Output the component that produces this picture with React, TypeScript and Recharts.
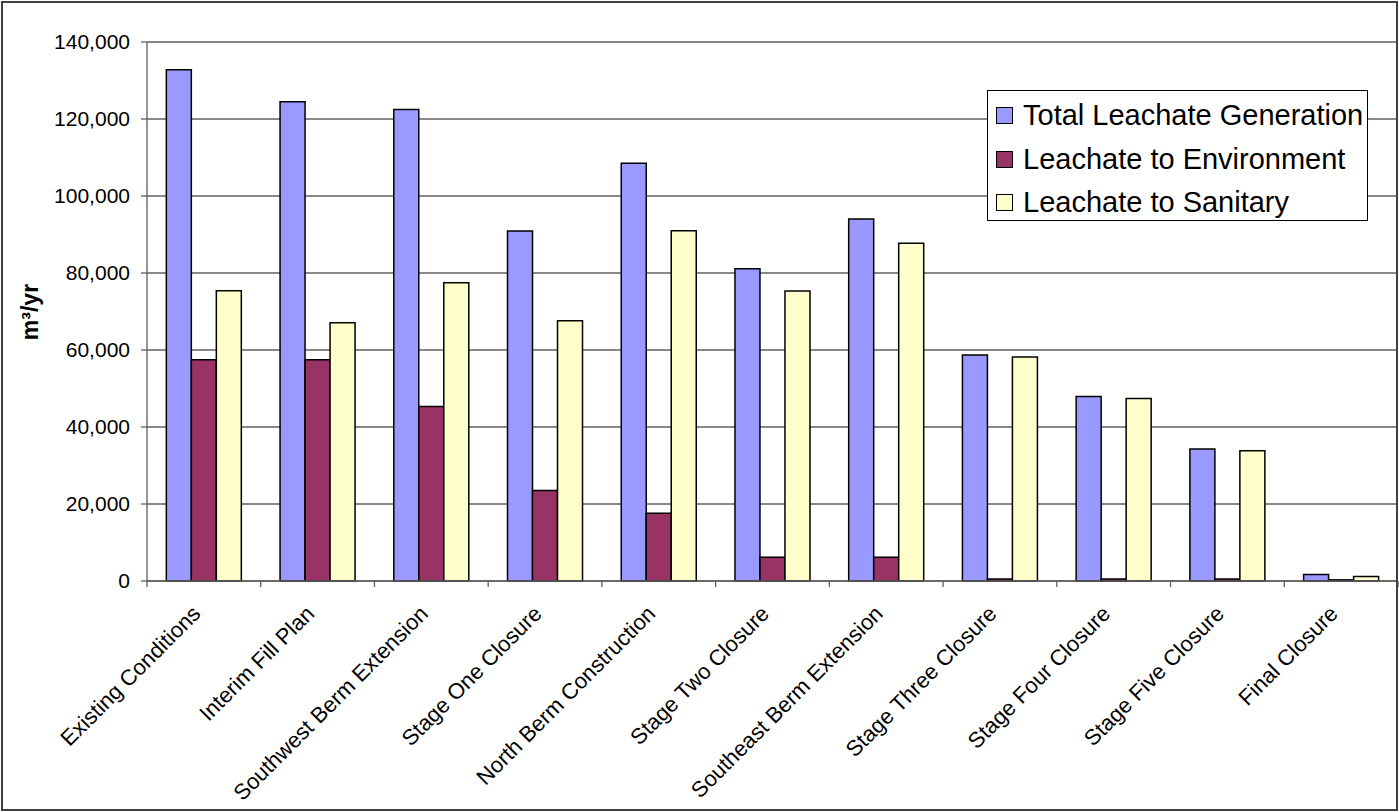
import React from "react";
import { BarChart, Bar, XAxis, YAxis, CartesianGrid } from "recharts";

const CATEGORIES = [
  "Existing Conditions",
  "Interim Fill Plan",
  "Southwest Berm Extension",
  "Stage One Closure",
  "North Berm Construction",
  "Stage Two Closure",
  "Southeast Berm Extension",
  "Stage Three Closure",
  "Stage Four Closure",
  "Stage Five Closure",
  "Final Closure",
];
const TOTAL_GENERATION = [132800, 124500, 122500, 90900, 108500, 81100, 94000, 58700, 47900, 34300, 1700];
const TO_ENVIRONMENT = [57500, 57500, 45300, 23500, 17600, 6200, 6200, 500, 500, 500, 300];
const TO_SANITARY = [75400, 67100, 77500, 67600, 91000, 75300, 87700, 58200, 47400, 33800, 1200];
const Y_TICKS = [0, 20000, 40000, 60000, 80000, 100000, 120000, 140000];

const SERIES = [
  { key: "total", name: "Total Leachate Generation", color: "#9999ff" },
  { key: "env", name: "Leachate to Environment", color: "#993366" },
  { key: "san", name: "Leachate to Sanitary", color: "#ffffcc" },
];

const data = CATEGORIES.map((c, i) => ({
  name: c,
  total: TOTAL_GENERATION[i],
  env: TO_ENVIRONMENT[i],
  san: TO_SANITARY[i],
}));

const W = 1399;
const H = 812;
const FONT = "'Liberation Sans', Arial, sans-serif";
const Y_AXIS_W = 147;
const RIGHT = 1;
const BAND = (W - Y_AXIS_W - RIGHT) / CATEGORIES.length;
const LINE = "#606060";

const CategoryTick = (props: any) => {
  const { x, y, payload, index } = props;
  const axisY = y - 8;
  const left = x - BAND / 2;
  const right = x + BAND / 2;
  return (
    <g>
      <line x1={left} x2={left} y1={axisY} y2={axisY + 6} stroke={LINE} strokeWidth={1.3} />
      {index === CATEGORIES.length - 1 && (
        <line x1={right} x2={right} y1={axisY} y2={axisY + 6} stroke={LINE} strokeWidth={1.3} />
      )}
      <text
        x={x - 2}
        y={y + 26}
        textAnchor="end"
        transform={`rotate(-45, ${x - 2}, ${y + 26})`}
        fontSize={22}
        fontFamily={FONT}
        fill="#000"
      >
        {payload.value}
      </text>
    </g>
  );
};

const App = () => {
  return (
    <div style={{ position: "absolute", left: 0, top: 0, width: W, height: H, background: "#fff" }}>
      <BarChart
        width={W}
        height={H}
        data={data}
        margin={{ top: 42, right: RIGHT, bottom: 0, left: 0 }}
        barCategoryGap="17%"
        barGap={0}
      >
        <CartesianGrid vertical={false} stroke={LINE} strokeWidth={1.3} />
        <XAxis
          dataKey="name"
          interval={0}
          height={231}
          tickLine={false}
          axisLine={{ stroke: LINE, strokeWidth: 1.3 }}
          tick={<CategoryTick />}
        />
        <YAxis
          width={Y_AXIS_W}
          domain={[0, 140000]}
          ticks={Y_TICKS}
          tickSize={6}
          tickMargin={11}
          axisLine={{ stroke: LINE, strokeWidth: 1.3 }}
          tickLine={{ stroke: LINE, strokeWidth: 1.3 }}
          tick={{ fill: "#000", fontSize: 21, fontFamily: FONT }}
          tickFormatter={(v: number) => v.toLocaleString("en-US")}
          label={{
            content: () => (
              <text
                x={30}
                y={312}
                transform="rotate(-90, 30, 312)"
                textAnchor="middle"
                dominantBaseline="central"
                fontSize={23}
                fontWeight="bold"
                fontFamily={FONT}
                fill="#000"
              >
                m³/yr
              </text>
            ),
          }}
        />
        {SERIES.map((s) => (
          <Bar
            key={s.key}
            dataKey={s.key}
            name={s.name}
            fill={s.color}
            stroke="#000"
            strokeWidth={1.5}
            isAnimationActive={false}
          />
        ))}
      </BarChart>
      <div
        style={{
          position: "absolute",
          left: 987,
          top: 90,
          width: 381,
          height: 131,
          boxSizing: "border-box",
          border: "1.5px solid #000",
          background: "#fff",
          paddingTop: 3,
          fontFamily: FONT,
          fontSize: 29,
        }}
      >
        {SERIES.map((s) => (
          <div key={s.key} style={{ display: "flex", alignItems: "center", height: 43.5 }}>
            <span
              style={{
                display: "inline-block",
                width: 17,
                height: 17,
                boxSizing: "border-box",
                marginLeft: 8,
                marginRight: 10,
                background: s.color,
                border: "1.5px solid #000",
              }}
            />
            <span style={{ whiteSpace: "nowrap" }}>{s.name}</span>
          </div>
        ))}
      </div>
      <div
        style={{
          position: "absolute",
          left: 1,
          top: 1,
          width: 1397,
          height: 810,
          boxSizing: "border-box",
          border: "2px solid #404040",
          pointerEvents: "none",
        }}
      />
    </div>
  );
};

export default App;
